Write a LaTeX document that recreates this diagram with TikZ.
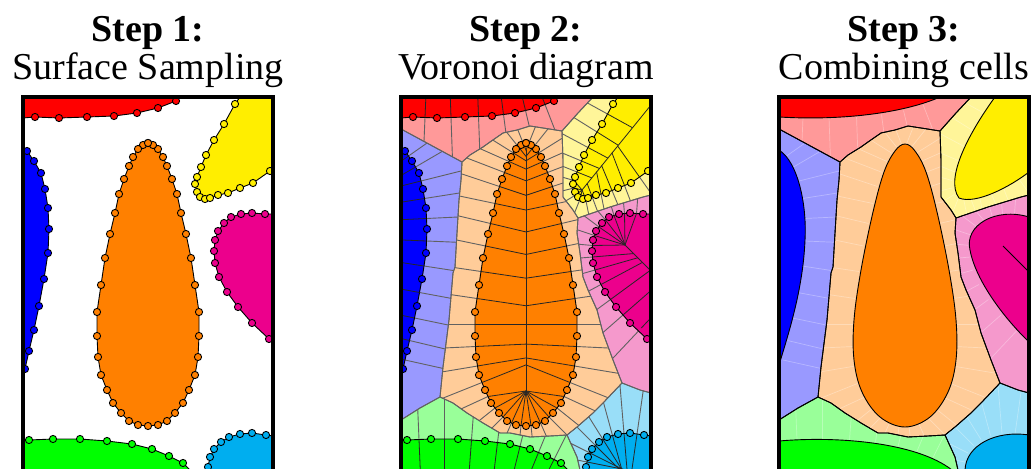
\documentclass[tikz,border=0pt]{standalone}
\usepackage{fontspec}
\setmainfont{Liberation Serif}
\usepackage{xcolor}
\usepackage{tikz}

\definecolor{cRed}{HTML}{FF0000}
\definecolor{cRedL}{HTML}{FF9999}
\definecolor{cBlue}{HTML}{0000FF}
\definecolor{cBlueL}{HTML}{9999FF}
\definecolor{cOrange}{HTML}{FF8000}
\definecolor{cOrangeL}{HTML}{FFCC99}
\definecolor{cYellow}{HTML}{FFEE00}
\definecolor{cYellowL}{HTML}{FFF599}
\definecolor{cMagenta}{HTML}{EC008C}
\definecolor{cMagentaL}{HTML}{F599CC}
\definecolor{cGreen}{HTML}{00FF00}
\definecolor{cGreenL}{HTML}{99FF99}
\definecolor{cCyan}{HTML}{00AEEF}
\definecolor{cCyanL}{HTML}{99DEF8}

% surface samples (x/y, y downwards)
\def\redL{35/117,59/118,87/117,114/116,137/113,158/108,176/101}
\def\blueL{25/369,29/351,34/330,39/306,44/279,48/253,49/229,48/208,45/189,41/173,34/161,27/151}
\def\yellowL{235/104,224/124,214/140,206/155,201/167,197/177,195/184,197/192,200/197,205/199,210/198,218/195,228/193,240/188,253/183,270/171}
\def\yellowA{235/104,224/124,214/140,206/155,201/167,197/177}
\def\yellowT{197/177,195/184,197/192,200/197,205/199,210/198}
\def\yellowB{210/198,218/195,228/193,240/188,253/183,270/171}
\def\magentaL{265/214,252/213,241/214,231/217,224/223,218/231,215/240,214/251,215/263,219/277,227/292,238/307,252/323,269/339}
\def\magentaA{265/214,252/213,241/214,231/217,224/223,218/231,215/240,214/251}
\def\magentaB{214/251,215/263,219/277,227/292,238/307,252/323,269/339}
\def\greenL{183/463,169/456,152/449,132/444,107/441,80/439,53/439,29/440}
\def\cyanL{266/435,252/433,240/434,229/437,221/442,214/449,210/457,208/467}
\def\orangeL{148/143,143/145,138/149,133/157,129/166,124/179,119/194,115/213,110/234,105/258,101/285,97/312,97/336,98/357,101/375,107/390,113/403,121/413,129/421,138/425,148/426,158/425,167/421,175/413,183/403,189/390,195/375,198/357,199/336,199/312,195/285,191/258,186/234,181/213,177/194,172/179,167/166,163/157,158/149,153/145,148/143}
\def\orangeLeft{148/143,143/145,138/149,133/157,129/166,124/179,119/194,115/213,110/234,105/258,101/285,97/312,97/336,98/357,101/375,107/390}
\def\orangeBot{107/390,113/403,121/413,129/421,138/425,148/426,158/425,167/421,175/413,183/403,189/390}
\def\orangeRight{189/390,195/375,198/357,199/336,199/312,195/285,191/258,186/234,181/213,177/194,172/179,167/166,163/157,158/149,153/145,148/143}

% sampled shapes
\def\redShape{(23,97) -- (23,118) \foreach \x/\y in \redL {-- (\x,\y)} -- (181,97) -- cycle}
\def\blueShape{(23,372) \foreach \x/\y in \blueL {-- (\x,\y)} -- (23,148) -- cycle}
\def\yellowShape{(240,97) \foreach \x/\y in \yellowL {-- (\x,\y)} -- (273,169) -- (273,97) -- cycle}
\def\magentaShape{(273,214) \foreach \x/\y in \magentaL {-- (\x,\y)} -- (273,342) -- cycle}
\def\greenShape{(190,470) \foreach \x/\y in \greenL {-- (\x,\y)} -- (23,440) -- (23,470) -- cycle}
\def\cyanShape{(273,436) \foreach \x/\y in \cyanL {-- (\x,\y)} -- (207,470) -- (273,470) -- cycle}
\def\orangeShape{(148,143) \foreach \x/\y in \orangeL {-- (\x,\y)} -- cycle}

% combined cells
\def\redLight{(23,97) -- (215,97) -- (200,113) -- (184,131) -- (165,128) -- (152,126) -- (139,130) -- (125,133) -- (112,142) -- (105,147) -- (92,155) -- (84,162) -- (23,129) -- cycle}
\def\blueLight{(23,129) -- (84,162) -- (83,180) -- (81,200) -- (79,233) -- (77,267) -- (75,273) -- (71,320) -- (65,367) -- (62,397) -- (42,408) -- (23,420) -- cycle}
\def\orangeLight{(84,162) -- (92,155) -- (105,147) -- (112,142) -- (125,133) -- (139,130) -- (152,126) -- (165,128) -- (184,131) -- (185,160) -- (185,197) -- (195,210) -- (200,218) -- (199,233) -- (202,253) -- (205,277) -- (210,290) -- (219,310) -- (225,333) -- (235,360) -- (244,383) -- (225,403) -- (215,413) -- (199,427) -- (189,435) -- (172,436) -- (152,437) -- (132,433) -- (122,433) -- (105,423) -- (89,413) -- (75,403) -- (62,397) -- (65,367) -- (71,320) -- (75,273) -- (77,267) -- (79,233) -- (81,200) -- (83,180) -- cycle}
\def\yellowLight{(184,131) -- (200,113) -- (215,97) -- (273,97) -- (273,195) -- (265,197) -- (232,207) -- (200,218) -- (195,210) -- (185,197) -- (185,160) -- cycle}
\def\magentaLight{(200,218) -- (232,207) -- (265,197) -- (273,195) -- (273,393) -- (262,390) -- (244,383) -- (235,360) -- (225,333) -- (219,310) -- (210,290) -- (205,277) -- (202,253) -- (199,233) -- cycle}
\def\cyanLight{(244,383) -- (262,390) -- (273,393) -- (273,470) -- (202,470) -- (199,457) -- (189,435) -- (199,427) -- (215,413) -- (225,403) -- cycle}
\def\greenLight{(23,420) -- (42,408) -- (62,397) -- (75,403) -- (89,413) -- (105,423) -- (122,433) -- (132,433) -- (152,437) -- (172,436) -- (189,435) -- (199,457) -- (202,470) -- (23,470) -- cycle}

% normal of every sample segment, #3>0 outwards
\newcommand{\normals}[3][]{%
  \foreach \x/\y [count=\i, remember=\x as \px (initially 0), remember=\y as \py (initially 0)] in #2 {%
    \ifnum\i>1
      \pgfmathsetmacro\nlen{veclen(\x-\px,\y-\py)}%
      \pgfmathsetmacro\vnx{-(\y-\py)/\nlen*(#3)}%
      \pgfmathsetmacro\vny{(\x-\px)/\nlen*(#3)}%
      \draw[#1] ({(\x+\px)/2},{(\y+\py)/2}) -- ++(\vnx,\vny);
    \fi}}
\newcommand{\fanlines}[4][]{%
  \foreach \x/\y [count=\i, remember=\x as \px (initially 0), remember=\y as \py (initially 0)] in #2 {%
    \ifnum\i>1
      \draw[#1] ({(\x+\px)/2},{(\y+\py)/2}) -- (#3,#4);
    \fi}}
\newcommand{\sampledots}[2]{\foreach \x/\y in #2 {\path[dot=#1] (\x,\y) circle (3.6);}}

\tikzset{
  steptitle/.style={font=\fontsize{38}{40}\selectfont\bfseries, anchor=base, inner sep=0pt},
  stepname/.style={font=\fontsize{38}{40}\selectfont, anchor=base, inner sep=0pt},
  frame/.style={line width=3.2pt},
  blob/.style={fill=#1, draw=black, line width=0.9pt},
  dot/.style={fill=#1, draw=black, line width=0.9pt},
  edge/.style={draw=black!62, line width=0.9pt},
  inner/.style={draw=black!85, line width=0.8pt},
  faint/.style={draw=white, line width=0.7pt, opacity=0.3},
  cellline/.style={draw=black, line width=0.9pt}
}

\begin{document}
\begin{tikzpicture}[x=1pt, y=-1pt]
\useasboundingbox (0,0) rectangle (1032,468);
\clip (0,0) rectangle (1032,468);

\node[steptitle] (t1) at (148,42) {Step 1:};
\node[stepname] (n1) at ([yshift=-38pt]t1.base) {Surface Sampling};
\node[steptitle] (t2) at (526,42) {Step 2:};
\node[stepname] (n2) at ([yshift=-38pt]t2.base) {Voronoi diagram};
\node[steptitle] (t3) at (904,42) {Step 3:};
\node[stepname] (n3) at ([yshift=-38pt]t3.base) {Combining cells};

% step 1
\begin{scope}
  \clip (23,97) rectangle (273,470);
  \filldraw[blob=cRed] \redShape;
  \filldraw[blob=cBlue] \blueShape;
  \filldraw[blob=cYellow] \yellowShape;
  \filldraw[blob=cMagenta] \magentaShape;
  \filldraw[blob=cGreen] \greenShape;
  \filldraw[blob=cCyan] \cyanShape;
  \filldraw[blob=cOrange] \orangeShape;
  \sampledots{cRed}{\redL}
  \sampledots{cBlue}{\blueL}
  \sampledots{cYellow}{\yellowL}
  \sampledots{cMagenta}{\magentaL}
  \sampledots{cGreen}{\greenL}
  \sampledots{cCyan}{\cyanL}
  \sampledots{cOrange}{\orangeL}
\end{scope}
\draw[frame] (23,97) rectangle (273,480);

% step 2
\begin{scope}[xshift=378pt]
  \begin{scope}
    \clip (23,97) rectangle (273,470);
    \fill[cRedL] \redLight;
    \fill[cBlueL] \blueLight;
    \fill[cOrangeL] \orangeLight;
    \fill[cYellowL] \yellowLight;
    \fill[cMagentaL] \magentaLight;
    \fill[cCyanL] \cyanLight;
    \fill[cGreenL] \greenLight;
    \begin{scope} \clip \redLight; \normals[edge]{\redL}{90} \end{scope}
    \begin{scope} \clip \blueLight; \normals[edge]{\blueL}{90} \end{scope}
    \begin{scope} \clip \orangeLight; \normals[edge]{\orangeL}{120} \end{scope}
    \begin{scope} \clip \yellowLight; \normals[edge]{\yellowL}{90} \end{scope}
    \begin{scope} \clip \magentaLight; \normals[edge]{\magentaL}{90} \end{scope}
    \begin{scope} \clip \cyanLight; \normals[edge]{\cyanL}{90} \end{scope}
    \begin{scope} \clip \greenLight; \normals[edge]{\greenL}{90} \end{scope}
    \draw[edge] \redLight; \draw[edge] \blueLight; \draw[edge] \orangeLight;
    \draw[edge] \yellowLight; \draw[edge] \magentaLight;
    \draw[edge] \cyanLight; \draw[edge] \greenLight;
    \filldraw[blob=cRed] \redShape;
    \filldraw[blob=cBlue] \blueShape;
    \filldraw[blob=cYellow] \yellowShape;
    \filldraw[blob=cMagenta] \magentaShape;
    \filldraw[blob=cGreen] \greenShape;
    \filldraw[blob=cCyan] \cyanShape;
    \filldraw[blob=cOrange] \orangeShape;
    \begin{scope} \clip \redShape; \normals[inner]{\redL}{-60} \end{scope}
    \begin{scope} \clip \blueShape; \normals[inner]{\blueL}{-60} \end{scope}
    \begin{scope} \clip \greenShape; \normals[inner]{\greenL}{-60} \end{scope}
    \begin{scope} \clip \cyanShape; \normals[inner]{\cyanL}{-60} \end{scope}
    \begin{scope} \clip \orangeShape; \clip (0,0) rectangle (148,500);
      \normals[inner]{\orangeLeft}{-90} \end{scope}
    \begin{scope} \clip \orangeShape; \clip (148,0) rectangle (300,500);
      \normals[inner]{\orangeRight}{-90} \end{scope}
    \fanlines[inner]{\orangeBot}{148}{391}
    \draw[inner] (148,150) -- (148,391);
    \begin{scope} \clip \yellowShape; \clip (163,240) -- (306,64) -- (100,64) -- (100,240) -- cycle;
      \normals[inner]{\yellowA}{-90} \end{scope}
    \begin{scope} \clip \yellowShape; \clip (163,240) -- (306,64) -- (330,64) -- (330,260) -- (163,260) -- cycle;
      \normals[inner]{\yellowB}{-90} \end{scope}
    \fanlines[inner]{\yellowT}{204}{190}
    \draw[inner] (204,190) -- (273,105);
    \fanlines[inner]{\magentaA}{247}{245}
    \begin{scope} \clip \magentaShape; \clip (190,188) -- (330,328) -- (190,328) -- cycle;
      \normals[inner]{\magentaB}{-90} \end{scope}
    \draw[inner] (247,245) -- (273,271);
    \sampledots{cRed}{\redL}
    \sampledots{cBlue}{\blueL}
    \sampledots{cYellow}{\yellowL}
    \sampledots{cMagenta}{\magentaL}
    \sampledots{cGreen}{\greenL}
    \sampledots{cCyan}{\cyanL}
    \sampledots{cOrange}{\orangeL}
  \end{scope}
  \draw[frame] (23,97) rectangle (273,480);
\end{scope}

% step 3
\begin{scope}[xshift=756pt]
  \begin{scope}
    \clip (23,97) rectangle (273,470);
    \fill[cRedL] \redLight;
    \fill[cBlueL] \blueLight;
    \fill[cOrangeL] \orangeLight;
    \fill[cYellowL] \yellowLight;
    \fill[cMagentaL] \magentaLight;
    \fill[cCyanL] \cyanLight;
    \fill[cGreenL] \greenLight;
    \begin{scope} \clip \redLight; \normals[faint]{\redL}{90} \end{scope}
    \begin{scope} \clip \blueLight; \normals[faint]{\blueL}{90} \end{scope}
    \begin{scope} \clip \orangeLight; \normals[faint]{\orangeL}{120} \end{scope}
    \begin{scope} \clip \yellowLight; \normals[faint]{\yellowL}{90} \end{scope}
    \begin{scope} \clip \magentaLight; \normals[faint]{\magentaL}{90} \end{scope}
    \begin{scope} \clip \cyanLight; \normals[faint]{\cyanL}{90} \end{scope}
    \begin{scope} \clip \greenLight; \normals[faint]{\greenL}{90} \end{scope}
    \draw[cellline] \redLight; \draw[cellline] \blueLight; \draw[cellline] \orangeLight;
    \draw[cellline] \yellowLight; \draw[cellline] \magentaLight;
    \draw[cellline] \cyanLight; \draw[cellline] \greenLight;
    \filldraw[blob=cRed] (23,97) -- (23,117) .. controls (90,121) and (150,112) .. (184,97) -- cycle;
    \filldraw[blob=cBlue] (23,150) .. controls (42,162) and (51,205) .. (49,240) .. controls (47,290) and (32,335) .. (23,365) -- cycle;
    \filldraw[blob=cYellow] (239,97) .. controls (215,130) and (188,178) .. (203,198) .. controls (220,205) and (255,186) .. (273,172) -- (273,97) -- cycle;
    \filldraw[blob=cMagenta] (273,217) .. controls (240,207) and (208,225) .. (214,250) .. controls (220,282) and (250,320) .. (273,342) -- cycle;
    \draw[cellline] (247,246) -- (273,272);
    \filldraw[blob=cGreen] (23,441) .. controls (80,436) and (160,442) .. (196,470) -- (23,470) -- cycle;
    \filldraw[blob=cCyan] (209,470) .. controls (210,445) and (240,430) .. (273,435) -- (273,470) -- cycle;
    \filldraw[blob=cOrange] plot[smooth cycle, tension=0.6] coordinates {(149,144) (139,151) (128,172) (117,212) (105,270) (98,320) (98,360) (106,392) (124,417) (149,427) (174,417) (192,392) (200,360) (200,320) (193,270) (181,212) (170,172) (159,151)};
  \end{scope}
  \draw[frame] (23,97) rectangle (273,480);
\end{scope}
\end{tikzpicture}
\end{document}
